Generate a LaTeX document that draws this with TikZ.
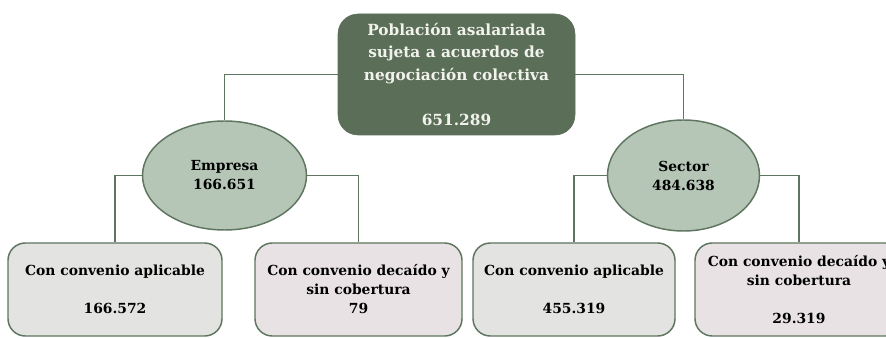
\documentclass[tikz,border=0pt]{standalone}
\usepackage{fontspec}
\setmainfont{DejaVu Serif}
\usetikzlibrary{positioning,shapes.geometric}
\definecolor{topgreen}{HTML}{5A6E58}
\definecolor{ellgreen}{HTML}{B5C6B7}
\definecolor{linegreen}{HTML}{5E755F}
\definecolor{boxgray}{HTML}{E3E3E2}
\definecolor{boxpink}{HTML}{E9E2E5}
\definecolor{topfont}{HTML}{F2F2EC}

\begin{document}
\begin{tikzpicture}[
    x=0.75pt,y=-0.75pt,
    inner sep=2pt, %sets minimum size of a node
    topbox/.style={rectangle,rounded corners=15pt,draw=topgreen,fill=topgreen,
        text=topfont,align=center,minimum width=177.75pt,minimum height=90.75pt,
        font=\fontsize{11.5}{16.9}\selectfont\bfseries},
    ell/.style={ellipse,draw=linegreen,fill=ellgreen,line width=1.1pt,
        align=center,font=\fontsize{10.4}{14.25}\selectfont\bfseries},
    graybox/.style={rectangle,rounded corners=13pt,draw=linegreen,fill=boxgray,
        line width=1.1pt,align=center,minimum height=69.75pt,
        font=\fontsize{10.4}{14.25}\selectfont\bfseries},
    pinkbox/.style={graybox,fill=boxpink},
    conn/.style={draw=linegreen,line width=1.3pt},
    ]
    \useasboundingbox (0,0) rectangle (886,338);

    %top
    \node[topbox] (pob) at (456.5,74.5) {Población asalariada\\sujeta a acuerdos de\\negociación colectiva\\ \\651.289};

    %Empresa / Sector
    \node[ell,minimum width=123pt,minimum height=81.75pt] (emp) at (224.5,175.5) {Empresa\\166.651};
    \node[ell,minimum width=114pt,minimum height=83.25pt] (sec) at (683.5,175.5) {Sector\\484.638};

    %boxes
    \node[graybox,minimum width=160.5pt] (empapl) at (115,289.5) {Con convenio aplicable\\ \\166.572};
    \node[pinkbox,minimum width=155.25pt] (empdec) at (358.5,289.5) {Con convenio decaído y\\sin cobertura\\79};
    \node[graybox,minimum width=151.5pt] (secapl) at (574,289.5) {Con convenio aplicable\\ \\455.319};
    \node[pinkbox,minimum width=156pt] (secdec) at (799,289.5) {Con convenio decaído y\\sin cobertura\\ \\29.319};

    %lines
    \draw[conn] (pob.west) -| (emp.north);
    \draw[conn] (pob.east) -| (sec.north);
    \draw[conn] (emp.west) -| (empapl.north);
    \draw[conn] (emp.east) -| (empdec.north);
    \draw[conn] (sec.west) -| (secapl.north);
    \draw[conn] (sec.east) -| (secdec.north);

\end{tikzpicture}
\end{document}
